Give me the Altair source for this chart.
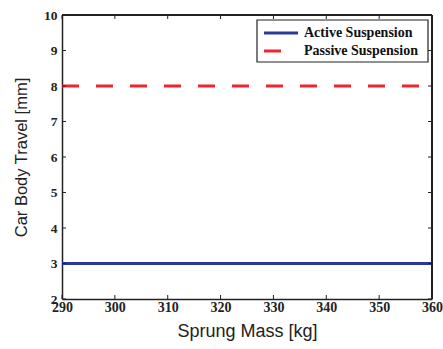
import altair as alt
import pandas as pd

mass = [290, 300, 310, 320, 330, 340, 350, 360]
active = [3, 3, 3, 3, 3, 3, 3, 3]
passive = [8, 8, 8, 8, 8, 8, 8, 8]
series_names = ["Active Suspension", "Passive Suspension"]
series_colors = ["#2B3A97", "#EE2530"]
x_ticks = [290, 300, 310, 320, 330, 340, 350, 360]
y_ticks = [2, 3, 4, 5, 6, 7, 8, 9, 10]

rows = []
for m, a, p in zip(mass, active, passive):
    rows.append({"mass": m, "travel": a, "series": series_names[0]})
    rows.append({"mass": m, "travel": p, "series": series_names[1]})
df = pd.DataFrame(rows)

W, H = 370, 284
serif = "Liberation Serif"
sans = "Liberation Sans"
ink = "#222"

xscale = alt.Scale(domain=[290, 360], nice=False, zero=False)
yscale = alt.Scale(domain=[2, 10], nice=False, zero=False)
cscale = alt.Scale(domain=series_names, range=series_colors)
dscale = alt.Scale(domain=series_names, range=[[1, 0], [17, 17]])

xaxis = alt.Axis(values=x_ticks, title="Sprung Mass [kg]", ticks=False,
                 labelFont=serif, labelFontWeight="bold", labelFontSize=14,
                 labelColor=ink, labelPadding=1, labelOverlap=False,
                 labelFlush=False,
                 domainColor=ink, domainWidth=1.5, grid=False,
                 titleFont=sans, titleFontWeight="normal", titleFontSize=18,
                 titleColor=ink, titlePadding=8)
yaxis = alt.Axis(values=y_ticks, title="Car Body Travel [mm]", ticks=False,
                 labelFont=serif, labelFontWeight="bold", labelFontSize=13.5,
                 labelColor=ink, labelPadding=5, labelOverlap=False,
                 labelFlush=False,
                 domainColor=ink, domainWidth=1.5, grid=False,
                 titleFont=sans, titleFontWeight="normal", titleFontSize=16.5,
                 titleColor=ink, titlePadding=14)

lines = alt.Chart(df).mark_line(strokeWidth=3, clip=True).encode(
    x=alt.X("mass:Q", scale=xscale, axis=xaxis, title="Sprung Mass [kg]"),
    y=alt.Y("travel:Q", scale=yscale, axis=yaxis, title="Car Body Travel [mm]"),
    color=alt.Color("series:N", scale=cscale, legend=None),
    strokeDash=alt.StrokeDash("series:N", scale=dscale, legend=None),
)

xt = pd.DataFrame({"v": x_ticks})
yt = pd.DataFrame({"v": y_ticks})

def xenc():
    return alt.X("v:Q", scale=xscale, axis=xaxis, title="Sprung Mass [kg]")

def yenc():
    return alt.Y("v:Q", scale=yscale, axis=yaxis, title="Car Body Travel [mm]")

xticks_bottom = alt.Chart(xt).mark_rule(color=ink, strokeWidth=1).encode(
    x=xenc(), y=alt.value(H), y2=alt.value(H - 4))
xticks_top = alt.Chart(xt).mark_rule(color=ink, strokeWidth=1).encode(
    x=xenc(), y=alt.value(0), y2=alt.value(4))
yticks_left = alt.Chart(yt).mark_rule(color=ink, strokeWidth=1).encode(
    y=yenc(), x=alt.value(0), x2=alt.value(4))
yticks_right = alt.Chart(yt).mark_rule(color=ink, strokeWidth=1).encode(
    y=yenc(), x=alt.value(W), x2=alt.value(W - 4))

frame_top = alt.Chart(xt).mark_rule(color=ink, strokeWidth=1.5).encode(
    x=alt.value(0), x2=alt.value(W), y=alt.value(0))
frame_right = alt.Chart(xt).mark_rule(color=ink, strokeWidth=1.5).encode(
    x=alt.value(W), y=alt.value(0), y2=alt.value(H))

# manual legend
leg = pd.DataFrame({"series": series_names})
legend_box = alt.Chart(leg.head(1)).mark_rect(
    fill="white", stroke=ink, strokeWidth=1.2).encode(
    x=alt.value(195), x2=alt.value(366), y=alt.value(5), y2=alt.value(47))

legend_layers = []
for name, ypix in zip(series_names, [18, 36]):
    base = alt.Chart(leg).transform_filter(alt.datum.series == name)
    legend_layers.append(base.mark_rule(strokeWidth=3).encode(
        x=alt.value(202), x2=alt.value(236), y=alt.value(ypix),
        color=alt.Color("series:N", scale=cscale, legend=None),
        strokeDash=alt.StrokeDash("series:N", scale=dscale, legend=None),
    ))
    legend_layers.append(base.mark_text(
        align="left", baseline="middle", font=serif, fontWeight="bold",
        fontSize=14, color="#111").encode(
        x=alt.value(242), y=alt.value(ypix), text="series:N"))

chart = alt.layer(lines, xticks_bottom, xticks_top, yticks_left, yticks_right,
                  frame_top, frame_right, legend_box, *legend_layers).properties(
    width=W, height=H,
    autosize=alt.AutoSizeParams(type="none"),
    padding={"left": 62, "top": 15, "right": 11, "bottom": 50},
    background="white",
).configure_view(stroke=None)

chart.save("out.html", embed_options={"renderer": "svg", "actions": False})
